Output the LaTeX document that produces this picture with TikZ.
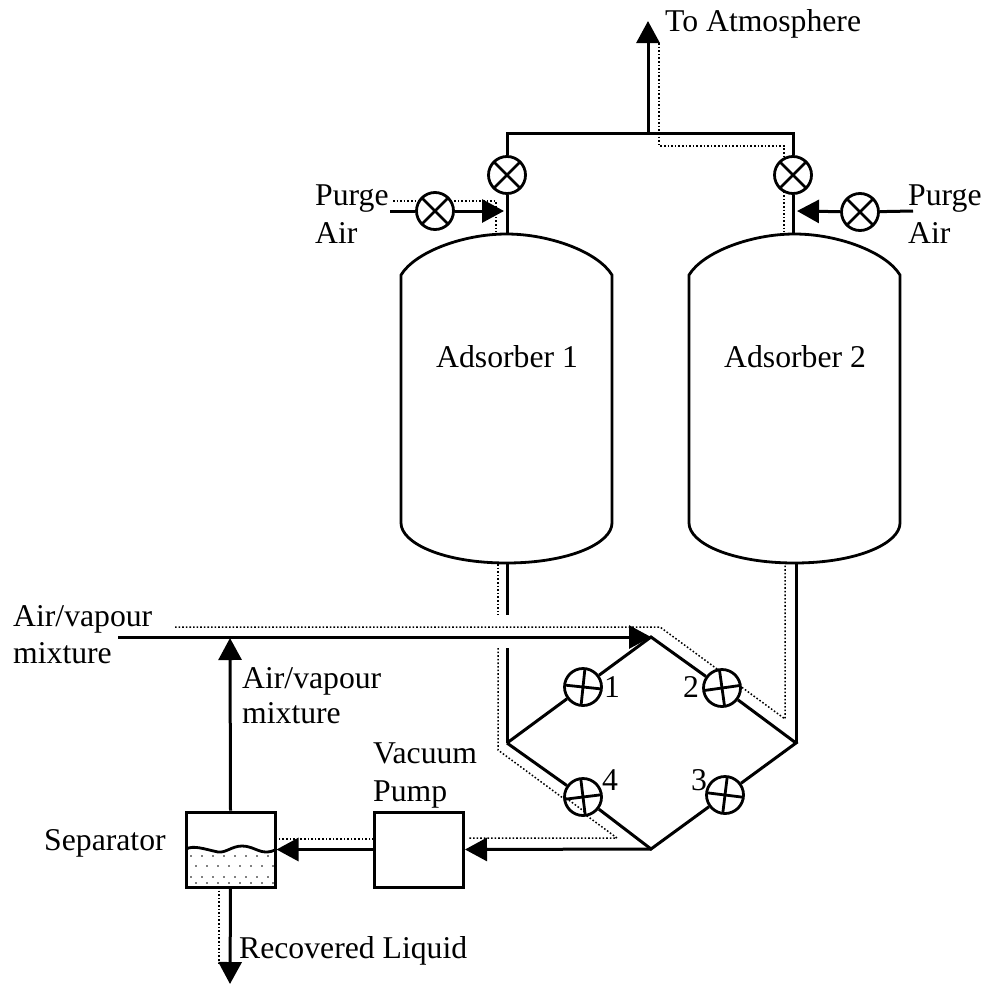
\documentclass[tikz,border=0pt]{standalone}
\usepackage{fontspec}
\setmainfont{Liberation Serif}
\usetikzlibrary{arrows.meta}

\tikzset{
    pipe/.style={line width=3pt},
    flow/.style={pipe, -{Triangle[length=22pt,width=23pt]}},
    trace/.style={line width=1.5pt, dash pattern=on 1.6pt off 2pt},
    valve/.style={
        circle, draw, fill=white, line width=2.8pt,
        minimum size=37pt, inner sep=0pt,
        path picture={
            \draw[line width=2.8pt]
                (path picture bounding box.center) ++(#1:20) -- ++(#1+180:40)
                (path picture bounding box.center) ++(#1+90:20) -- ++(#1+270:40);
        }
    },
    tag/.style={inner sep=0pt, anchor=base west, font=\fontsize{31.7}{37}\selectfont},
    unit/.style={draw, line width=3pt, minimum width=89pt, minimum height=75pt, inner sep=0pt}
}

\begin{document}
\begin{tikzpicture}[x=1pt, y=-1pt]
\useasboundingbox (0,0) rectangle (985,983);

% Junctions of the pipework
\coordinate (topL) at (507,133);
\coordinate (topM) at (648,133);
\coordinate (topR) at (793,133);
\coordinate (vent) at (648,21);
\coordinate (neckL) at (507,234);
\coordinate (neckR) at (793,234);
\coordinate (footL) at (507,563);
\coordinate (footR) at (796,563);
\coordinate (gapA) at (507,615);
\coordinate (gapB) at (507,648);
\coordinate (west) at (507,743);
\coordinate (north) at (651,637);
\coordinate (east) at (796,743);
\coordinate (south) at (651,849);
\coordinate (feed) at (118,637);
\coordinate (teeF) at (230,638);
\coordinate (purgeL) at (390,211);
\coordinate (purgeLend) at (504,211);
\coordinate (purgeR) at (913,211);
\coordinate (purgeRend) at (797,211);
\coordinate (liquid) at (230,984);

% Dotted flow path
\coordinate (d1) at (659,43);
\coordinate (d2) at (659,146);
\coordinate (d3) at (784,146);
\coordinate (d4) at (784,232);
\coordinate (d5) at (393,201);
\coordinate (d6) at (496,201);
\coordinate (d7) at (496,232);
\coordinate (d8) at (175,627);
\coordinate (d9) at (660,627);
\coordinate (d10) at (785,719);
\coordinate (d11) at (785,564);
\coordinate (d12) at (498,564);
\coordinate (d13) at (498,615);
\coordinate (d14) at (498,648);
\coordinate (d15) at (498,750);
\coordinate (d16) at (617,838);
\coordinate (d17) at (469,838);
\coordinate (d18) at (374,839);
\coordinate (d19) at (276,839);
\coordinate (d20) at (219,887);
\coordinate (d21) at (219,963);
\draw[trace] (d1) -- (d2) -- (d3) -- (d4);
\draw[trace] (d5) -- (d6) -- (d7);
\draw[trace] (d8) -- (d9) -- (d10) -- (d11);
\draw[trace] (d12) -- (d13);
\draw[trace] (d14) -- (d15) -- (d16) -- (d17);
\draw[trace] (d18) -- (d19);
\draw[trace] (d20) -- (d21);

% Valves
\node[valve=45] (vT1) at (507,175) {};
\node[valve=45] (vT2) at (793,175) {};
\node[valve=45] (vP1) at (435,211) {};
\node[valve=45] (vP2) at (860,212) {};
\node[valve=6] (v1) at (583,687) {};
\node[valve=-8] (v2) at (722,688) {};
\node[valve=7] (v3) at (725,795) {};
\node[valve=-7] (v4) at (583,797) {};

% Dots that show through valve 4
\coordinate (d22) at (566,798);
\coordinate (d23) at (585,812);
\draw[trace] (d22) -- (d23);

% Adsorbers
\foreach \x/\n in {401/1,689/2}{
    \draw[line width=2.8pt]
        (\x,275) .. controls (\x+14,252) and (\x+62,234) .. (\x+105.5,234)
        .. controls (\x+149,234) and (\x+197,252) .. (\x+211,275)
        -- (\x+211,523)
        .. controls (\x+211,543) and (\x+169,563) .. (\x+105.5,563)
        .. controls (\x+42,563) and (\x,543) .. (\x,523) -- cycle;
    \node[tag] (ads\n) at (\x+35,367) {Adsorber \n};
}

% Units
\node[unit] (pump) at (419,849.5) {};
\node[unit] (sep) at (230.5,849.5) {};

% Liquid in the separator
\foreach \y/\o in {856/0,866/5,877/0,883/5}
    \foreach \k in {0,...,7}
        \fill (191+\o+\k*11,\y) circle (0.9pt);
\draw[line width=2.8pt] (186,849) .. controls (194,845) and (204,849) .. (218,852)
    .. controls (226,853) and (232,846) .. (242,846)
    .. controls (252,846) and (258,852) .. (266,852)
    .. controls (270,852) and (273,851) .. (275,850);

% Pipes
\draw[pipe] (vT1) -- (topL) -- (topR) -- (vT2);
\draw[flow] (topM) -- (vent);
\draw[pipe] (vT1) -- (neckL);
\draw[pipe] (vT2) -- (neckR);
\draw[pipe] (purgeL) -- (vP1);
\draw[flow] (vP1) -- (purgeLend);
\draw[pipe] (purgeR) -- (vP2);
\draw[flow] (vP2) -- (purgeRend);
\draw[pipe] (footL) -- (gapA);
\draw[pipe] (gapB) -- (west);
\draw[pipe] (footR) -- (east);
\draw[pipe] (west) -- (v1) -- (north) -- (v2) -- (east) -- (v3) -- (south) -- (v4) -- (west);
\draw[flow] (feed) -- (north);
\draw[flow] (south) -- (pump.east);
\draw[flow] (pump.west) -- (sep.east);
\draw[flow] (sep.north) -- (teeF);
\draw[flow] (sep.south) -- (liquid);

% Labels
\node[tag] (lVent) at (665,31) {To Atmosphere};
\node[tag] (lPurgeA) at (315,205) {Purge};
\node[tag] (lAirA) at (315,243) {Air};
\node[tag] (lPurgeB) at (908,205) {Purge};
\node[tag] (lAirB) at (908,243) {Air};
\node[tag] (lFeedA) at (13,626) {Air/vapour};
\node[tag] (lFeedB) at (13,663) {mixture};
\node[tag] (lBackA) at (242,688) {Air/vapour};
\node[tag] (lBackB) at (242,723) {mixture};
\node[tag] (lPumpA) at (373,763) {Vacuum};
\node[tag] (lPumpB) at (373,801) {Pump};
\node[tag] (lSep) at (44,850) {Separator};
\node[tag] (lLiquid) at (239,958) {Recovered Liquid};
\node[tag] (n1) at (604,697) {1};
\node[tag] (n2) at (683,697) {2};
\node[tag] (n3) at (691,790) {3};
\node[tag] (n4) at (602,790) {4};
\end{tikzpicture}
\end{document}
